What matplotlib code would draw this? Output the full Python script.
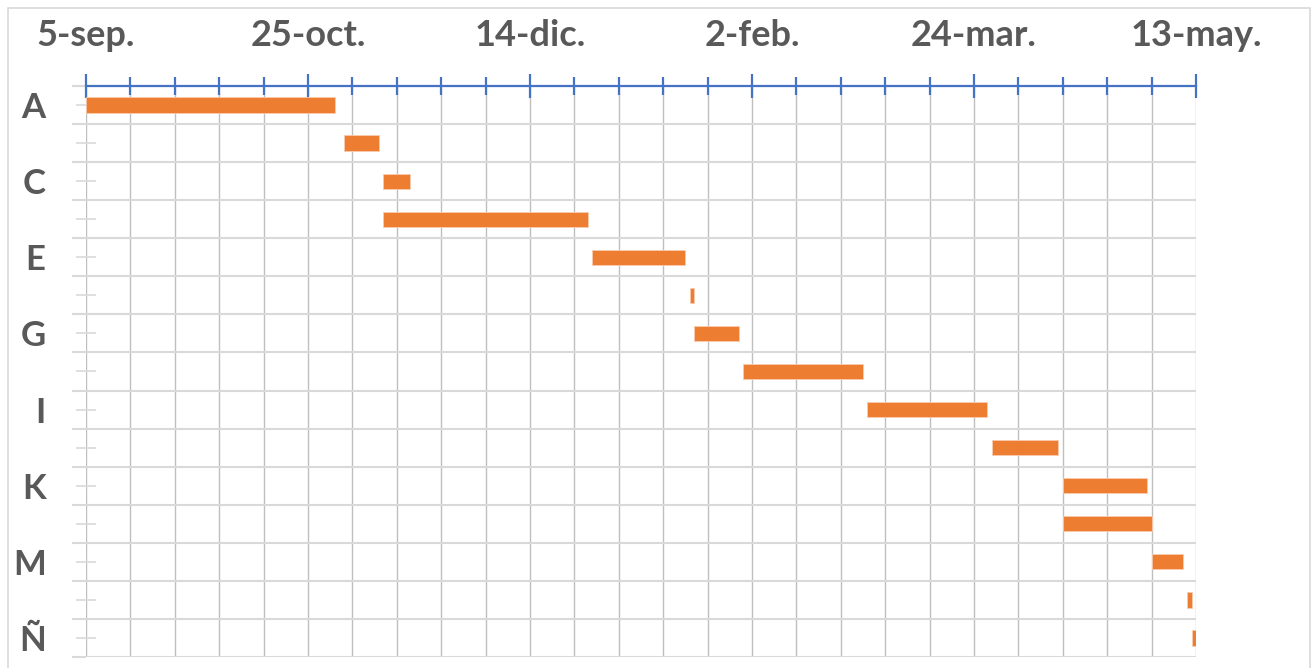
import matplotlib.pyplot as plt
import matplotlib.dates as mdates
import numpy as np
import pandas as pd
from matplotlib.patches import Rectangle
from matplotlib.ticker import FixedLocator, FuncFormatter

plt.rcParams['font.family'] = ['Lato', 'DejaVu Sans']

# tareas del proyecto
tareas = ['A', 'B', 'C', 'D', 'E', 'F', 'G', 'H', 'I', 'J', 'K', 'L', 'M', 'N', 'Ñ']
inicio = ['2022-09-05', '2022-11-02', '2022-11-11', '2022-11-11', '2022-12-28',
          '2023-01-19', '2023-01-20', '2023-01-31', '2023-02-28', '2023-03-28',
          '2023-04-13', '2023-04-13', '2023-05-03', '2023-05-11', '2023-05-12']
duracion = [56, 8, 6, 46, 21, 1, 10, 27, 27, 15, 19, 20, 7, 1, 1]
etiquetas_y = ['A', '', 'C', '', 'E', '', 'G', '', 'I', '', 'K', '', 'M', '', 'Ñ']
meses = ['ene', 'feb', 'mar', 'abr', 'may', 'jun',
         'jul', 'ago', 'sep', 'oct', 'nov', 'dic']
fecha_ini, fecha_fin = '2022-09-05', '2023-05-13'

x0 = mdates.date2num(pd.Timestamp(fecha_ini))
x1 = mdates.date2num(pd.Timestamp(fecha_fin))
left = mdates.date2num(pd.to_datetime(inicio))
pos = np.arange(len(tareas))

fig = plt.figure(figsize=(13.15, 6.68), dpi=100)
ax = fig.add_axes([86 / 1315, 1 - 657 / 668, 1110 / 1315, 571 / 668])

ax.barh(pos, duracion, left=left, height=0.4, color='#ED7D31',
        edgecolor='#F8CBAD', linewidth=0.6, zorder=3)

ax.set_xlim(x0, x1)
ax.set_ylim(len(tareas) - 0.5, -0.5)

# eje de fechas arriba
ax.xaxis.tick_top()
ax.xaxis.set_major_locator(FixedLocator(np.arange(x0, x1 + 1, 50)))
ax.xaxis.set_minor_locator(FixedLocator(np.arange(x0, x1 + 1, 10)))
fmt = lambda v, p: f"{mdates.num2date(v).day}-{meses[mdates.num2date(v).month - 1]}."
ax.xaxis.set_major_formatter(FuncFormatter(fmt))
ax.tick_params(axis='x', which='major', direction='inout', length=17, width=1.6,
               color='#4472C4', labelsize=26, labelcolor='#595959', pad=16)
ax.tick_params(axis='x', which='minor', direction='inout', length=13, width=1.6,
               color='#4472C4')
for t in ax.get_xticklabels():
    t.set_fontweight('bold')
ax.grid(axis='x', which='both', color='#BFBFBF', linewidth=1.0, zorder=0)

# filas
ax.set_yticks(pos)
ax.set_yticklabels(etiquetas_y, fontsize=25, fontweight='bold', color='#595959')
ax.set_yticks(np.arange(len(tareas) + 1) - 0.5, minor=True)
ax.tick_params(axis='y', which='major', direction='inout', length=14, width=1.2,
               color='#D9D9D9', pad=22)
ax.tick_params(axis='y', which='minor', direction='out', length=10, width=1.5,
               color='#D9D9D9')
ax.grid(axis='y', which='minor', color='#D9D9D9', linewidth=1.5, zorder=0)

for s in ['left', 'right', 'bottom']:
    ax.spines[s].set_visible(False)
ax.spines['top'].set_color('#4472C4')
ax.spines['top'].set_linewidth(1.6)
ax.spines['top'].set_zorder(4)

fig.patches.append(Rectangle((8 / 1315, -0.02), 1302 / 1315, 1.02 - 8 / 668,
                             transform=fig.transFigure, fill=False,
                             edgecolor='#D9D9D9', linewidth=1.2))

fig.savefig('out.png', dpi=100)
